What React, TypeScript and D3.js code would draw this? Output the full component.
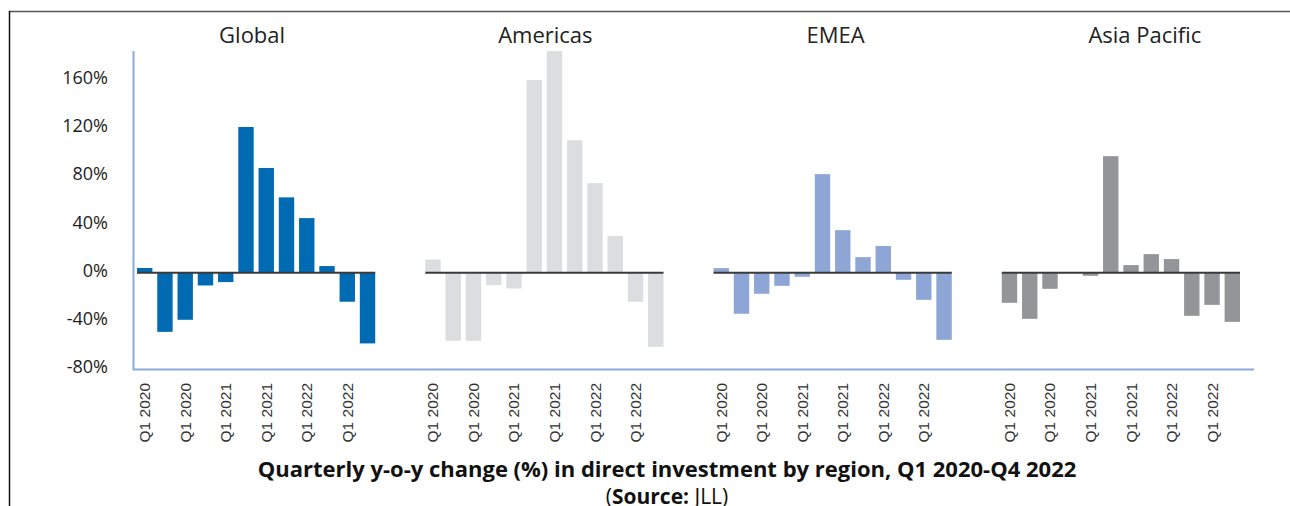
import React from "react";
import * as d3 from "d3";

const regions = ["Global", "Americas", "EMEA", "Asia Pacific"];
const quarters = [
  "Q1 2020", "Q2 2020", "Q3 2020", "Q4 2020",
  "Q1 2021", "Q2 2021", "Q3 2021", "Q4 2021",
  "Q1 2022", "Q2 2022", "Q3 2022", "Q4 2022",
];
// Excel-style category labels shown on every other bar
const tickLabels = ["Q1 2020", "Q1 2020", "Q1 2021", "Q1 2021", "Q1 2022", "Q1 2022"];

const globalValues = [4, -49, -39, -10.5, -7.7, 121, 87, 62.6, 45.4, 5.6, -24, -58.6];
const americasValues = [11, -56.4, -56.4, -10.2, -13, 160, 184, 110, 74.4, 30.5, -24, -61.4];
const emeaValues = [3.9, -34, -17.4, -10.8, -3.3, 81.9, 35.4, 13, 22.2, -5.8, -22.4, -55.6];
const asiaValues = [-24.9, -38.2, -13.3, 0, -2.5, 96.8, 6.4, 15.5, 11.4, -35.7, -26.6, -40.7];

const yTicks = [-80, -40, 0, 40, 80, 120, 160];

const seriesValues = [globalValues, americasValues, emeaValues, asiaValues];
const colors = ["#006ab3", "#dcdddf", "#8da6d6", "#939598"];
const titleDx = [-4, 1, 3, 24];

const W = 1290;
const H = 506;

export default function App() {
  const y = d3.scaleLinear().domain([-80, 184]).range([369.2, 51.1]);
  const panel = d3
    .scaleBand<string>()
    .domain(regions)
    .range([137, 1240])
    .paddingInner(50 / 288)
    .paddingOuter(0);
  const inner = d3
    .scaleBand<string>()
    .domain(quarters)
    .range([0, panel.bandwidth()])
    .paddingInner(0.24)
    .paddingOuter(0);

  const axisColor = "#8eaadb";
  const labelFont = "'Open Sans', sans-serif";

  return (
    <svg
      width={W}
      height={H}
      style={{ position: "absolute", left: 0, top: 0, background: "#fff" }}
    >
      {/* frame */}
      <line x1={9} x2={W} y1={11.5} y2={11.5} stroke="#555" strokeWidth={1.5} />
      <line x1={9.5} x2={9.5} y1={11} y2={H} stroke="#111" strokeWidth={1.5} />

      {/* y tick labels */}
      {yTicks.map((t) => (
        <text
          key={t}
          x={108}
          y={y(t) - 3}
          textAnchor="end"
          dominantBaseline="central"
          fontFamily={labelFont}
          fontSize={18}
          fill="#222"
        >
          {t + "%"}
        </text>
      ))}

      {regions.map((r, ri) => {
        const px = panel(r)!;
        const vals = seriesValues[ri];
        return (
          <g key={r}>
            <text
              x={px + panel.bandwidth() / 2 + titleDx[ri]}
              y={43}
              textAnchor="middle"
              fontFamily={labelFont}
              fontSize={22}
              fill="#222"
            >
              {r}
            </text>
            {quarters.map((q, qi) => {
              const v = vals[qi];
              const y0 = y(0);
              const y1 = y(v);
              return (
                <rect
                  key={q}
                  x={px + inner(q)!}
                  y={Math.min(y0, y1)}
                  width={inner.bandwidth()}
                  height={Math.abs(y1 - y0)}
                  fill={colors[ri]}
                />
              );
            })}
            <line
              x1={px}
              x2={px + panel.bandwidth()}
              y1={y(0)}
              y2={y(0)}
              stroke="#3a3a3a"
              strokeWidth={2}
            />
            {tickLabels.map((lab, li) => {
              const q = quarters[li * 2];
              const cx = px + inner(q)! + inner.bandwidth() / 2;
              return (
                <text
                  key={li}
                  transform={`translate(${cx},383) rotate(-90)`}
                  textAnchor="end"
                  dominantBaseline="central"
                  fontFamily="'Liberation Sans', Arial, sans-serif"
                  fontSize={15.5}
                  fill="#333"
                >
                  {lab}
                </text>
              );
            })}
          </g>
        );
      })}

      {/* axes */}
      <line x1={133.5} x2={133.5} y1={51} y2={370} stroke={axisColor} strokeWidth={2} />
      <line x1={133} x2={1254} y1={369.5} y2={369.5} stroke={axisColor} strokeWidth={2} />

      {/* caption */}
      <text
        x={667}
        y={477}
        textAnchor="middle"
        fontFamily={labelFont}
        fontWeight={700}
        fontSize={22}
        fill="#111"
      >
        Quarterly y-o-y change (%) in direct investment by region, Q1 2020-Q4 2022
      </text>
      <text
        x={667}
        y={504}
        textAnchor="middle"
        fontFamily={labelFont}
        fontSize={21}
        fill="#111"
      >
        (<tspan fontWeight={700}>Source:</tspan> JLL)
      </text>
    </svg>
  );
}
